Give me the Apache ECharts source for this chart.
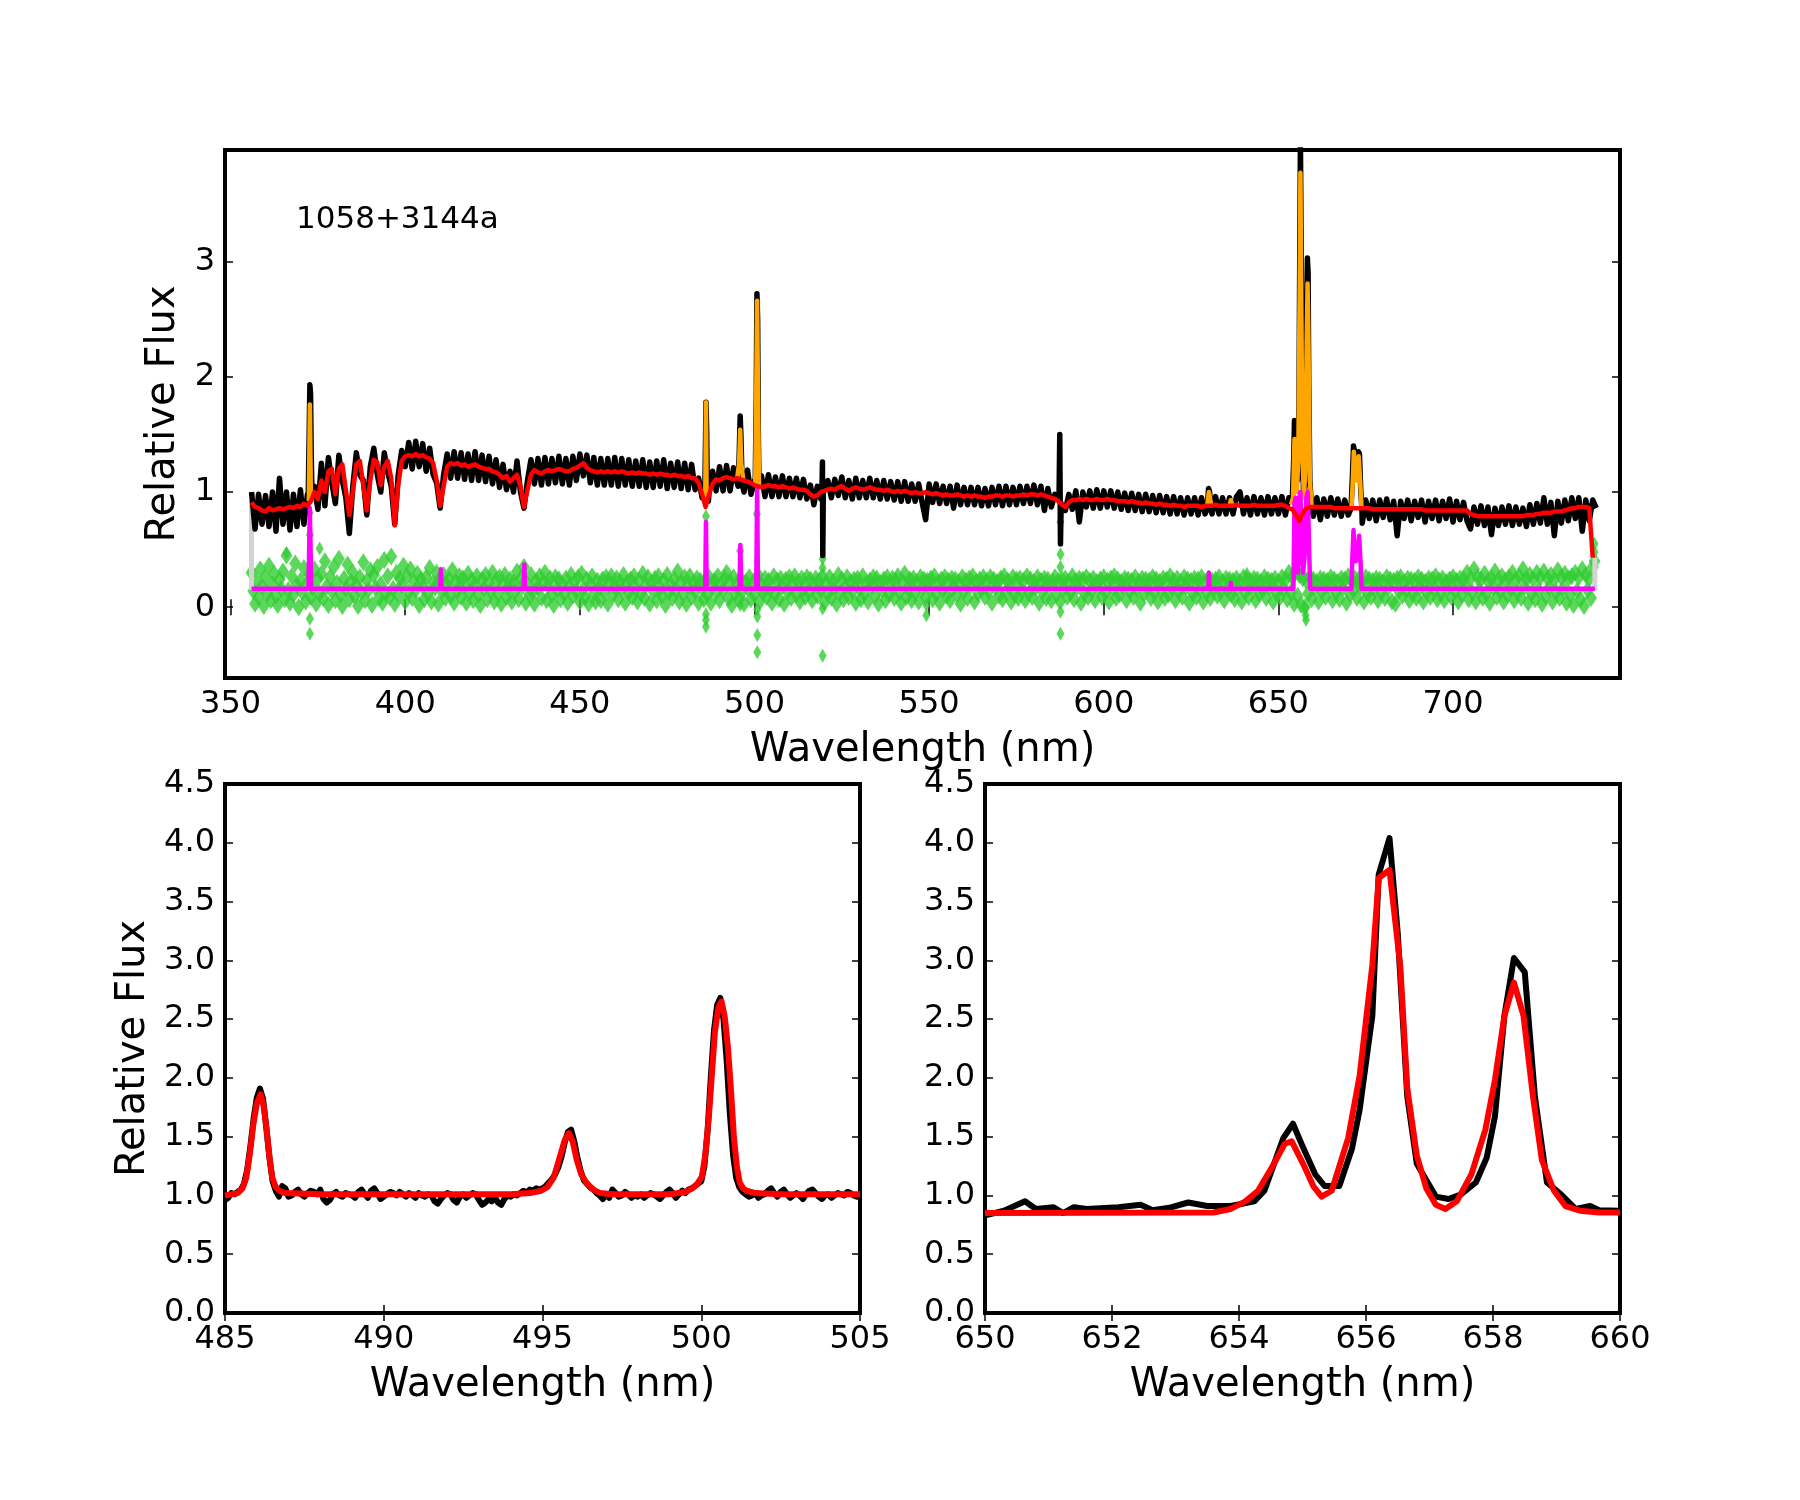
<!DOCTYPE html>
<html>
<head>
<meta charset="utf-8">
<script src="https://cdn.jsdelivr.net/npm/echarts@6/dist/echarts.min.js"></script>
<style>
  html, body { margin: 0; padding: 0; background: #fff; }
  #chart { width: 1800px; height: 1500px; }
</style>
</head>
<body>
<div id="chart"></div>
<script>
// ---- top panel: full spectrum, 1 nm grid from 356 nm ----
const specStart = 356;
const specStep = 1;

const blackFlux = [
  1.00,0.68,0.98,0.72,0.97,0.70,1.00,0.66,1.12,0.72,
  1.00,0.67,0.98,0.70,1.02,0.72,0.98,0.90,1.05,0.85,
  1.25,0.88,1.30,1.08,0.90,1.32,1.10,0.95,0.64,1.05,
  1.34,1.15,1.10,0.80,1.22,1.38,1.15,1.00,1.34,1.17,
  1.05,0.72,1.15,1.36,1.22,1.43,1.20,1.44,1.22,1.42,
  1.18,1.38,1.15,1.08,0.86,1.15,1.33,1.12,1.35,1.12,
  1.34,1.11,1.33,1.10,1.35,1.10,1.32,1.09,1.31,1.07,
  1.28,1.04,1.24,1.02,1.18,1.00,1.27,1.00,0.86,1.10,
  1.28,1.07,1.29,1.06,1.30,1.07,1.29,1.08,1.31,1.07,
  1.29,1.06,1.31,1.10,1.33,1.14,1.32,1.08,1.30,1.06,
  1.29,1.06,1.29,1.06,1.30,1.05,1.29,1.06,1.28,1.05,
  1.27,1.05,1.28,1.04,1.26,1.04,1.27,1.05,1.28,1.03,
  1.25,1.04,1.26,1.03,1.25,1.02,1.24,1.02,1.12,0.95,
  0.90,1.00,1.18,1.01,1.22,1.01,1.23,1.01,1.21,1.08,
  1.10,1.00,1.19,0.98,1.10,1.06,1.14,0.96,1.15,0.96,
  1.13,0.96,1.14,0.96,1.12,0.96,1.12,0.95,1.11,0.94,
  1.06,0.89,1.05,0.94,1.02,1.10,0.95,1.11,0.97,1.13,
  0.95,1.10,0.94,1.12,0.95,1.10,0.95,1.12,0.95,1.10,
  0.94,1.10,0.94,1.09,0.93,1.09,0.92,1.09,0.92,1.07,
  0.92,1.07,0.91,0.76,1.07,0.91,1.07,0.90,1.05,0.90,
  1.05,0.86,1.06,0.89,1.04,0.89,1.04,0.89,1.04,0.88,
  1.03,0.88,1.04,0.89,1.05,0.88,1.05,0.89,1.04,0.89,
  1.05,0.90,1.05,0.90,1.06,0.89,1.05,0.84,1.03,0.87,
  0.98,0.95,0.90,0.84,0.98,0.85,1.01,0.74,1.00,0.87,
  1.01,0.86,1.02,0.86,1.01,0.87,1.01,0.86,1.00,0.85,
  0.99,0.84,0.99,0.84,0.98,0.83,0.98,0.83,0.97,0.82,
  0.97,0.82,0.96,0.81,0.96,0.81,0.95,0.80,0.95,0.81,
  0.95,0.80,0.95,0.81,0.88,0.81,0.96,0.81,0.95,0.81,
  0.95,0.81,0.96,1.00,0.81,0.95,0.80,0.96,0.81,0.95,
  0.80,0.96,0.81,0.95,0.81,0.96,0.80,0.95,0.90,0.90,
  0.90,0.90,0.90,0.90,0.79,0.95,0.76,0.94,0.79,0.95,
  0.80,0.94,0.79,0.93,0.80,0.85,0.85,0.85,0.73,0.93,
  0.77,0.93,0.75,0.93,0.78,0.94,0.76,0.92,0.62,0.92,
  0.77,0.93,0.75,0.92,0.78,0.93,0.74,0.92,0.77,0.93,
  0.75,0.92,0.77,0.94,0.74,0.92,0.76,0.91,0.75,0.68,
  0.87,0.72,0.88,0.71,0.87,0.63,0.86,0.71,0.87,0.72,
  0.88,0.71,0.87,0.72,0.86,0.70,0.89,0.72,0.90,0.73,
  0.95,0.72,0.91,0.62,0.92,0.73,0.93,0.75,0.95,0.77,
  0.95,0.66,0.93,0.75,0.93,0.86
];

// emission lines and spikes, finer than the 1 nm grid
const blackPeaks = [
  [[372.2,0.90],[372.5,1.50],[372.7,1.93],[372.9,1.85],[373.1,1.30],[373.3,1.00]],
  [[485.4,0.95],[485.8,1.05],[486.0,1.50],[486.1,1.78],[486.3,1.55],[486.5,1.00],[486.8,0.92]],
  [[495.3,1.05],[495.6,1.30],[495.9,1.66],[496.1,1.50],[496.4,1.15],[496.6,1.05]],
  [[500.2,1.05],[500.5,1.80],[500.7,2.72],[500.9,2.50],[501.1,1.50],[501.3,1.05]],
  [[519.3,1.00],[519.45,1.26],[519.55,0.45],[519.7,1.00]],
  [[587.2,0.97],[587.4,1.50],[587.6,0.55],[587.8,0.90]],
  [[629.6,0.85],[630.0,1.03],[630.3,1.00],[630.6,0.88]],
  [[653.5,0.92],[654.0,0.95],[654.4,1.30],[654.6,1.62],[654.8,1.55],[655.1,1.20],[655.5,1.10],
   [655.9,1.80],[656.1,3.00],[656.3,4.05],[656.5,3.20],[656.8,1.40],[657.2,1.00],[657.5,1.05],
   [657.9,1.50],[658.1,2.60],[658.3,3.03],[658.5,2.90],[658.7,1.90],[659.0,1.10],[659.4,0.90]],
  [[670.8,0.86],[671.2,1.15],[671.5,1.40],[671.8,1.35],[672.4,1.22],[672.9,1.35],[673.2,1.33],
   [673.6,1.00],[673.9,0.86]]
];

const redFlux = [
  0.91,0.87,0.86,0.84,0.83,0.86,0.84,0.85,0.86,0.85,
  0.86,0.87,0.86,0.88,0.87,0.90,0.88,0.92,1.00,0.94,
  1.10,1.00,1.18,1.20,0.98,1.20,1.24,1.02,0.80,1.00,
  1.24,1.27,1.06,0.84,1.10,1.28,1.26,1.06,1.22,1.27,
  1.12,0.71,1.06,1.27,1.31,1.32,1.31,1.33,1.31,1.32,
  1.30,1.29,1.25,1.10,0.88,1.05,1.22,1.25,1.24,1.25,
  1.23,1.24,1.22,1.23,1.24,1.22,1.21,1.20,1.20,1.18,
  1.17,1.15,1.12,1.14,1.09,1.12,1.15,1.05,0.87,1.02,
  1.15,1.19,1.17,1.16,1.18,1.19,1.18,1.19,1.20,1.19,
  1.18,1.18,1.20,1.21,1.23,1.25,1.21,1.19,1.18,1.17,
  1.18,1.17,1.18,1.17,1.18,1.17,1.18,1.17,1.16,1.17,
  1.16,1.17,1.16,1.16,1.15,1.16,1.15,1.16,1.15,1.15,
  1.14,1.15,1.14,1.14,1.13,1.14,1.12,1.12,1.08,0.98,
  0.87,0.98,1.07,1.11,1.10,1.12,1.13,1.12,1.11,1.12,
  1.11,1.10,1.09,1.08,1.06,1.05,1.04,1.05,1.06,1.05,
  1.05,1.04,1.05,1.04,1.03,1.04,1.03,1.02,1.02,1.01,
  0.98,0.96,0.97,1.00,1.01,1.02,1.03,1.02,1.04,1.05,
  1.03,1.01,1.03,1.04,1.03,1.02,1.03,1.04,1.03,1.02,
  1.02,1.01,1.02,1.01,1.00,1.01,1.00,1.01,1.00,0.99,
  1.00,0.99,0.99,1.00,0.99,0.98,0.99,0.98,0.97,0.98,
  0.97,0.97,0.98,0.97,0.96,0.97,0.96,0.97,0.96,0.96,
  0.95,0.96,0.96,0.97,0.97,0.96,0.97,0.97,0.96,0.97,
  0.97,0.98,0.97,0.98,0.98,0.97,0.98,0.97,0.96,0.95,
  0.94,0.92,0.89,0.87,0.91,0.93,0.93,0.94,0.93,0.94,
  0.93,0.93,0.94,0.93,0.93,0.94,0.93,0.93,0.92,0.92,
  0.92,0.91,0.92,0.91,0.91,0.90,0.91,0.90,0.90,0.89,
  0.90,0.89,0.89,0.88,0.89,0.88,0.88,0.87,0.88,0.88,
  0.88,0.88,0.87,0.88,0.88,0.88,0.89,0.88,0.88,0.88,
  0.88,0.88,0.89,0.88,0.88,0.88,0.88,0.89,0.88,0.88,
  0.88,0.88,0.88,0.88,0.89,0.89,0.88,0.86,0.85,0.80,
  0.75,0.82,0.86,0.87,0.87,0.87,0.87,0.87,0.87,0.87,
  0.86,0.86,0.86,0.86,0.86,0.86,0.86,0.86,0.86,0.86,
  0.86,0.85,0.85,0.85,0.85,0.85,0.85,0.85,0.85,0.85,
  0.85,0.85,0.85,0.85,0.85,0.85,0.84,0.84,0.84,0.84,
  0.84,0.84,0.84,0.84,0.84,0.84,0.84,0.84,0.84,0.81,
  0.80,0.79,0.79,0.79,0.79,0.79,0.79,0.79,0.79,0.79,
  0.79,0.79,0.79,0.79,0.79,0.80,0.80,0.80,0.81,0.81,
  0.82,0.82,0.82,0.83,0.83,0.83,0.84,0.85,0.86,0.86,
  0.87,0.87,0.87,0.86,0.43
];

const orangeLines = [
  [[372.4,0.92],[372.7,1.76],[373.0,0.93]],
  [[485.9,0.92],[486.1,1.78],[486.3,0.92]],
  [[495.0,1.11],[495.6,1.25],[495.9,1.54],[496.2,1.25],[496.8,1.10]],
  [[500.2,1.06],[500.55,2.00],[500.75,2.66],[500.95,2.00],[501.3,1.05]],
  [[629.6,0.88],[630.1,1.00],[630.3,1.01],[630.8,0.88]],
  [[636.0,0.88],[636.4,0.93],[636.8,0.88]],
  [[653.6,0.89],[654.2,0.95],[654.6,1.46],[654.9,1.30],[655.3,1.00],[655.7,1.30],[656.1,2.80],
   [656.3,3.77],[656.5,2.80],[656.9,1.30],[657.3,0.95],[657.7,1.20],[658.1,2.30],[658.35,2.81],
   [658.6,2.30],[659.0,1.10],[659.5,0.88]],
  [[670.9,0.86],[671.3,1.10],[671.6,1.35],[671.9,1.20],[672.3,1.10],[672.7,1.20],[673.0,1.31],
   [673.4,1.10],[673.8,0.86]]
];

const magentaModel = [
  [356.0,0.16],[372.3,0.16],[372.5,0.50],[372.7,0.86],[372.9,0.50],[373.1,0.16],
  [410.0,0.16],[410.2,0.33],[410.4,0.16],[433.9,0.16],[434.1,0.37],[434.3,0.16],
  [485.9,0.16],[486.1,0.74],[486.3,0.16],[495.7,0.16],[495.95,0.54],[496.2,0.16],
  [500.5,0.16],[500.75,1.03],[501.0,0.16],[629.9,0.16],[630.1,0.30],[630.3,0.16],
  [636.2,0.16],[636.4,0.21],[636.6,0.16],
  [654.3,0.16],[654.6,0.90],[654.9,0.95],[655.3,0.45],[655.6,0.30],[656.0,0.95],[656.3,1.00],
  [656.7,0.50],[657.1,0.30],[657.5,0.45],[658.0,0.95],[658.4,1.00],[658.8,0.50],[659.1,0.16],
  [670.9,0.16],[671.2,0.45],[671.5,0.67],[671.8,0.50],[672.2,0.40],[672.8,0.50],[673.1,0.62],
  [673.5,0.40],[673.8,0.16],[740.6,0.16]
];

// residuals (offset), 0.5 nm grid from 356 nm
const residStart = 356;
const residStep = 0.5;
const residFlux = [
  0.30,0.14,0.03,0.22,0.09,0.33,0.18,0.01,0.26,0.12,0.36,0.06,0.20,0.29,0.10,0.02,0.24,0.16,0.31,0.07,
  0.45,0.15,0.04,0.27,0.11,0.38,0.19,0.00,0.23,0.13,0.34,0.05,0.21,0.28,0.09,0.17,0.33,0.03,0.25,0.12,
  0.29,0.08,0.40,0.18,0.02,0.26,0.14,0.35,0.06,0.21,0.42,0.11,0.01,0.25,0.16,0.37,0.07,0.22,0.30,0.10,
  0.19,0.01,0.26,0.13,0.39,0.06,0.23,0.15,0.32,0.02,0.28,0.17,0.35,0.08,0.20,0.04,0.41,0.12,0.27,0.09,
  0.44,0.16,0.03,0.30,0.11,0.25,0.19,0.36,0.05,0.27,0.13,0.33,0.08,0.22,0.15,0.29,0.02,0.24,0.18,0.07,
  0.26,0.12,0.34,0.05,0.21,0.17,0.30,0.03,0.25,0.14,0.28,0.08,0.19,0.24,0.10,0.32,0.04,0.22,0.15,0.27,
  0.09,0.25,0.18,0.04,0.29,0.13,0.23,0.06,0.20,0.27,0.11,0.02,0.24,0.16,0.28,0.07,0.21,0.14,0.30,0.05,
  0.23,0.12,0.26,0.03,0.19,0.28,0.09,0.17,0.24,0.05,0.22,0.14,0.31,0.07,0.25,0.18,0.35,0.04,0.20,0.11,
  0.28,0.13,0.03,0.23,0.17,0.27,0.08,0.21,0.30,0.06,0.19,0.25,0.11,0.02,0.26,0.15,0.24,0.07,0.20,0.12,
  0.25,0.04,0.18,0.28,0.10,0.22,0.14,0.26,0.05,0.29,0.16,0.09,0.24,0.03,0.20,0.27,0.12,0.05,0.23,0.17,
  0.06,0.24,0.14,0.26,0.03,0.20,0.27,0.11,0.18,0.25,0.07,0.22,0.15,0.28,0.04,0.21,0.13,0.24,0.09,0.27,
  0.16,0.05,0.23,0.12,0.29,0.08,0.19,0.26,0.03,0.21,0.14,0.25,0.06,0.27,0.17,0.10,0.23,0.02,0.28,0.13,
  0.20,0.08,0.24,0.15,0.31,0.05,0.22,0.12,0.26,0.03,0.18,0.27,0.09,0.21,0.14,0.25,0.04,0.23,0.16,0.07,
  0.24,0.11,0.26,0.04,0.19,0.23,0.13,0.27,0.06,0.20,0.15,0.25,0.30,0.08,0.22,0.02,0.26,0.12,0.18,0.07,
  0.25,0.14,0.03,0.22,0.17,0.26,0.07,0.21,0.11,0.24,0.28,0.05,0.19,0.13,0.25,0.09,0.23,0.16,0.04,0.27,
  0.12,0.23,0.07,0.25,0.18,0.03,0.24,0.14,0.26,0.08,0.20,0.27,0.11,0.22,0.05,0.25,0.16,0.09,0.26,0.13,
  0.24,0.06,0.19,0.25,0.10,0.23,0.15,0.27,0.04,0.21,0.12,0.26,0.08,0.22,0.17,0.03,0.28,0.13,0.24,0.07,
  0.18,0.26,0.09,0.22,0.14,0.24,0.04,0.25,0.16,0.07,0.27,0.12,0.21,0.05,0.23,0.18,0.26,0.10,0.25,0.03,
  0.21,0.15,0.24,0.06,0.26,0.11,0.20,0.25,0.08,0.23,0.27,0.13,0.04,0.22,0.29,0.09,0.17,0.24,0.06,0.25,
  0.13,0.22,0.05,0.26,0.16,0.24,0.09,0.23,0.18,0.25,0.07,0.27,0.12,0.21,0.04,0.24,0.15,0.26,0.10,0.23,
  0.06,0.25,0.17,0.24,0.11,0.22,0.03,0.26,0.14,0.23,0.08,0.25,0.19,0.27,0.05,0.22,0.12,0.24,0.16,0.26,
  0.09,0.23,0.14,0.26,0.04,0.24,0.17,0.22,0.10,0.25,0.07,0.27,0.13,0.23,0.18,0.05,0.26,0.11,0.24,0.08,
  0.25,0.15,0.23,0.06,0.27,0.12,0.24,0.09,0.22,0.17,0.26,0.04,0.23,0.14,0.25,0.08,0.24,0.19,0.06,0.22,
  0.26,0.11,0.23,0.05,0.24,0.16,0.25,0.09,0.22,0.13,0.27,0.07,0.23,0.18,0.25,0.04,0.24,0.12,0.26,0.09,
  0.23,0.15,0.25,0.06,0.22,0.17,0.24,0.09,0.26,0.13,0.23,0.05,0.25,0.16,0.27,0.08,0.24,0.11,0.22,0.18,
  0.25,0.06,0.24,0.14,0.23,0.09,0.26,0.16,0.22,0.04,0.25,0.12,0.24,0.17,0.23,0.08,0.26,0.13,0.24,0.05,
  0.22,0.15,0.25,0.08,0.24,0.11,0.27,0.17,0.23,0.06,0.25,0.14,0.22,0.09,0.26,0.18,0.24,0.04,0.23,0.12,
  0.25,0.09,0.24,0.16,0.26,0.05,0.22,0.13,0.25,0.08,0.23,0.17,0.24,0.10,0.26,0.14,0.22,0.06,0.25,0.15,
  0.24,0.11,0.23,0.07,0.25,0.16,0.22,0.05,0.26,0.13,0.24,0.09,0.23,0.18,0.25,0.06,0.24,0.12,0.22,0.15,
  0.26,0.08,0.24,0.17,0.23,0.05,0.25,0.12,0.22,0.09,0.26,0.16,0.24,0.07,0.30,0.13,0.26,0.03,0.32,0.10,
  0.28,0.02,0.25,0.00,0.23,0.12,0.26,0.07,0.24,0.16,0.22,0.05,0.25,0.14,0.24,0.09,0.23,0.18,0.26,0.06,
  0.24,0.13,0.22,0.07,0.25,0.17,0.24,0.04,0.27,0.11,0.23,0.15,0.25,0.08,0.24,0.18,0.22,0.05,0.26,0.12,
  0.24,0.09,0.23,0.16,0.25,0.06,0.24,0.13,0.22,0.08,0.26,0.17,0.24,0.05,0.23,0.03,0.25,0.14,0.26,0.10,
  0.22,0.15,0.25,0.06,0.24,0.12,0.23,0.08,0.26,0.17,0.24,0.05,0.22,0.13,0.25,0.09,0.24,0.16,0.27,0.07,
  0.23,0.12,0.25,0.06,0.22,0.17,0.24,0.09,0.26,0.14,0.23,0.05,0.25,0.11,0.24,0.18,0.30,0.07,0.25,0.13,
  0.33,0.05,0.26,0.15,0.24,0.08,0.29,0.12,0.23,0.04,0.25,0.17,0.31,0.09,0.24,0.14,0.27,0.05,0.23,0.11,
  0.26,0.16,0.30,0.06,0.24,0.13,0.27,0.08,0.33,0.18,0.25,0.04,0.28,0.12,0.24,0.07,0.30,0.15,0.26,0.03,
  0.31,0.10,0.25,0.17,0.28,0.05,0.24,0.13,0.32,0.08,0.26,0.16,0.29,0.04,0.25,0.11,0.27,0.02,0.30,0.14,
  0.26,0.07,0.33,0.01,0.28,0.15,0.25,0.08,0.35,0.40
];

const residOutliers = [
  [372.6,0.82],[372.7,0.63],[372.7,-0.10],[372.7,-0.23],[375.5,0.51],[366.0,0.47],
  [486.1,0.79],[486.1,-0.06],[486.1,-0.11],[486.1,-0.17],
  [495.9,0.49],[495.9,0.02],
  [500.7,0.81],[500.8,-0.02],[500.8,-0.08],[500.8,-0.24],[500.8,-0.39],
  [519.5,0.42],[519.5,0.34],[519.5,-0.01],[519.5,-0.42],
  [549.2,0.02],[549.2,-0.07],
  [587.6,0.74],[587.6,0.46],[587.6,0.35],[587.6,-0.04],[587.6,-0.23],
  [641.0,0.29],
  [656.0,0.28],[657.7,0.00],[657.8,-0.07],[657.9,-0.11],
  [740.5,0.55],[740.5,0.48]
];

const grayEdges = [
  [[356.0,0.15],[356.0,0.93]],
  [[740.6,0.15],[740.6,0.43]]
];

const topXTicks = [350, 400, 450, 500, 550, 600, 650, 700];
const topYTicks = [0, 1, 2, 3];

// ---- bottom left: H-beta / [OIII], 0.1 nm grid from 485 nm ----
const leftStart = 485;
const leftStep = 0.1;
const leftBlack = [
  0.96,0.98,1.02,1.01,1.03,1.05,1.10,1.22,1.42,1.65,
  1.83,1.91,1.82,1.58,1.32,1.12,1.04,0.99,1.08,1.06,
  0.99,1.00,1.03,1.05,1.01,0.99,1.02,1.04,1.03,1.01,
  1.05,0.97,0.94,0.96,1.01,1.03,1.00,0.99,1.02,1.01,
  1.00,0.98,1.03,1.05,1.01,0.98,1.04,1.06,1.02,0.97,
  0.99,1.01,1.03,1.02,1.00,1.03,1.01,0.99,1.02,1.00,
  0.98,1.02,1.00,0.99,1.01,1.00,0.95,0.93,0.97,1.00,
  1.02,1.01,0.96,0.94,0.99,1.01,0.98,1.00,1.02,1.01,
  0.96,0.92,0.94,0.97,0.95,0.98,0.94,0.92,0.97,1.00,
  0.99,1.01,1.00,1.02,1.04,1.02,1.05,1.04,1.06,1.05,
  1.06,1.08,1.11,1.14,1.18,1.24,1.33,1.45,1.54,1.56,
  1.46,1.32,1.21,1.13,1.10,1.07,1.05,1.02,1.00,0.97,
  1.01,0.98,1.05,1.02,0.99,1.00,1.03,1.01,0.98,1.00,
  0.99,1.01,0.98,1.00,1.02,1.01,0.99,0.97,1.00,1.03,
  1.05,1.02,0.98,1.01,1.04,1.02,1.05,1.06,1.08,1.10,
  1.12,1.25,1.55,2.00,2.40,2.62,2.68,2.50,2.15,1.70,
  1.35,1.15,1.07,1.03,1.01,0.99,1.00,1.02,0.98,1.00,
  1.01,1.04,1.06,1.02,0.99,1.03,1.05,1.01,0.98,1.00,
  1.02,1.00,0.97,1.01,1.04,1.05,1.02,0.99,0.97,1.00,
  1.01,0.98,1.00,1.02,1.01,1.00,1.03,1.02,1.00,0.99,
  1.00
];
const leftRed = [
  [485.0,1.00],[485.4,1.02],[485.55,1.06],[485.67,1.15],[485.78,1.35],[485.89,1.60],[486.0,1.78],
  [486.12,1.86],[486.22,1.76],[486.31,1.56],[486.4,1.33],[486.49,1.15],[486.6,1.07],[486.71,1.04],
  [486.9,1.02],[488.0,1.01],[490.0,1.01],[492.0,1.01],[494.0,1.01],[494.6,1.02],[494.96,1.04],
  [495.15,1.07],[495.35,1.15],[495.56,1.34],[495.7,1.47],[495.83,1.53],[495.95,1.46],[496.08,1.30],
  [496.22,1.18],[496.38,1.11],[496.6,1.05],[496.82,1.02],[497.2,1.01],[499.0,1.01],[499.5,1.03],
  [499.72,1.06],[499.88,1.10],[500.02,1.16],[500.13,1.35],[500.24,1.67],[500.34,2.05],[500.43,2.39],
  [500.54,2.60],[500.64,2.65],[500.74,2.52],[500.84,2.26],[500.94,1.88],[501.03,1.49],[501.12,1.25],
  [501.21,1.11],[501.32,1.06],[501.43,1.04],[501.7,1.02],[502.5,1.01],[505.0,1.01]
];

// ---- bottom right: H-alpha / [NII] ----
const rightBlack = [
  [650.0,0.83],[650.3,0.87],[650.63,0.95],[650.8,0.885],[651.08,0.90],[651.23,0.85],[651.4,0.90],
  [651.6,0.885],[652.1,0.90],[652.45,0.92],[652.64,0.875],[652.9,0.895],[653.2,0.94],[653.5,0.91],
  [653.87,0.91],[654.24,0.95],[654.4,1.04],[654.7,1.49],[654.85,1.61],[655.0,1.42],[655.2,1.18],
  [655.35,1.08],[655.58,1.08],[655.78,1.40],[655.9,1.73],[656.1,2.53],[656.2,3.73],[656.37,4.04],
  [656.5,3.23],[656.65,1.84],[656.8,1.27],[657.1,0.99],[657.3,0.97],[657.5,1.01],[657.73,1.11],
  [657.9,1.32],[658.03,1.67],[658.18,2.53],[658.33,3.02],[658.5,2.90],[658.66,1.84],[658.85,1.11],
  [659.07,1.01],[659.3,0.885],[659.53,0.91],[659.67,0.875],[660.0,0.87]
];
const rightRed = [
  [650.0,0.85],[653.6,0.855],[653.87,0.885],[654.1,0.95],[654.3,1.04],[654.53,1.25],[654.72,1.44],
  [654.83,1.46],[655.0,1.28],[655.17,1.08],[655.3,0.99],[655.46,1.04],[655.72,1.49],[655.9,2.02],
  [656.1,2.96],[656.2,3.70],[656.37,3.77],[656.54,2.95],[656.65,1.91],[656.8,1.34],[656.95,1.06],
  [657.1,0.92],[657.25,0.885],[657.43,0.95],[657.66,1.18],[657.88,1.56],[658.03,1.98],[658.18,2.53],
  [658.33,2.81],[658.48,2.53],[658.63,1.84],[658.77,1.30],[658.96,1.04],[659.14,0.91],[659.37,0.87],
  [659.67,0.855],[660.0,0.855]
];

// ---- build point lists ----
const blackPts = blackFlux
  .map((v, i) => [specStart + i * specStep, v])
  .filter(p => !blackPeaks.some(s => p[0] >= s[0][0] && p[0] <= s[s.length - 1][0]))
  .concat(...blackPeaks)
  .sort((a, b) => a[0] - b[0]);
const redPts = redFlux.map((v, i) => [specStart + i * specStep, v]);
const residPts = residFlux.map((v, i) => [residStart + i * residStep, v]);
const leftBlackPts = leftBlack.map((v, i) => [leftStart + i * leftStep, v]);

const FONT = 'DejaVu Sans';
const tickLine = { color: '#000', width: 1.5 };
const labelStyle = { fontSize: 32, color: '#000', fontFamily: FONT };
const nameStyle = { fontSize: 40, color: '#000', fontFamily: FONT };

function xAxisPair(gridIndex, min, max, ticks, interval) {
  const base = {
    type: 'value', gridIndex, min, max, interval,
    splitLine: { show: false }, axisLine: { show: false },
  };
  return [
    Object.assign({}, base, {
      position: 'bottom',
      axisTick: { inside: true, length: 8, lineStyle: tickLine, customValues: ticks },
      axisLabel: Object.assign({ margin: 11, customValues: ticks, showMinLabel: true, showMaxLabel: true }, labelStyle),
      name: 'Wavelength (nm)', nameLocation: 'middle', nameGap: 53, nameTextStyle: nameStyle,
    }),
    Object.assign({}, base, {
      position: 'top',
      axisTick: { inside: true, length: 8, lineStyle: tickLine, customValues: ticks },
      axisLabel: { show: false },
    }),
  ];
}

function yAxisPair(gridIndex, min, max, ticks, interval, fmt, nameGap) {
  const base = {
    type: 'value', gridIndex, min, max, interval,
    splitLine: { show: false }, axisLine: { show: false },
  };
  const left = Object.assign({}, base, {
    position: 'left',
    axisTick: { inside: true, length: 8, lineStyle: tickLine, customValues: ticks },
    axisLabel: Object.assign({ margin: 10, customValues: ticks, formatter: fmt, showMinLabel: true, showMaxLabel: true }, labelStyle),
  });
  if (nameGap) {
    Object.assign(left, { name: 'Relative Flux', nameLocation: 'middle', nameRotate: 90, nameGap, nameTextStyle: nameStyle });
  }
  return [left, Object.assign({}, base, {
    position: 'right',
    axisTick: { inside: true, length: 8, lineStyle: tickLine, customValues: ticks },
    axisLabel: { show: false },
  })];
}

const oneDec = v => v.toFixed(1);
const gridBox = { show: true, borderColor: '#000', borderWidth: 4, backgroundColor: 'transparent' };

const topAxes = { xAxisIndex: 0, yAxisIndex: 0 };
const lineSeries = (extra, color, width) => Object.assign({
  type: 'line', symbol: 'none', silent: true,
  lineStyle: { color, width, join: 'round' },
}, extra);
const residSeries = (data, size) => Object.assign({
  type: 'scatter', data, symbol: 'diamond', symbolSize: size, silent: true,
  itemStyle: { color: '#32cd32' },
}, topAxes);

const chart = echarts.init(document.getElementById('chart'));
chart.setOption({
  animation: false,
  backgroundColor: '#fff',
  grid: [
    Object.assign({ left: 225, top: 150, width: 1395, height: 528 }, gridBox),
    Object.assign({ left: 225, top: 784, width: 635, height: 529 }, gridBox),
    Object.assign({ left: 985, top: 784, width: 635, height: 529 }, gridBox),
  ],
  xAxis: [
    ...xAxisPair(0, 348.4, 747.8, topXTicks),
    ...xAxisPair(1, 485, 505, undefined, 5),
    ...xAxisPair(2, 650, 660, undefined, 2),
  ],
  yAxis: [
    ...yAxisPair(0, -0.614, 3.968, topYTicks, undefined, v => String(v), 38),
    ...yAxisPair(1, 0, 4.5, undefined, 0.5, oneDec, 71),
    ...yAxisPair(2, 0, 4.5, undefined, 0.5, oneDec, 0),
  ],
  graphic: [{
    type: 'text', left: 296, top: 204,
    style: { text: '1058+3144a', fontSize: 31, fontFamily: FONT, fill: '#000' },
  }],
  series: [
    ...grayEdges.map(seg => lineSeries(Object.assign({ data: seg }, topAxes), '#d3d3d3', 5)),
    lineSeries(Object.assign({ data: blackPts }, topAxes), '#000', 5.5),
    ...orangeLines.map(seg => lineSeries(Object.assign({ data: seg }, topAxes), '#ffa500', 4.5)),
    residSeries(residPts, [12, 18]),
    residSeries(residOutliers, [8, 14]),
    lineSeries(Object.assign({ data: magentaModel }, topAxes), '#ff00ff', 4.5),
    lineSeries(Object.assign({ data: redPts }, topAxes), '#ff0000', 4.5),

    lineSeries({ data: leftBlackPts, xAxisIndex: 2, yAxisIndex: 2 }, '#000', 6),
    lineSeries({ data: leftRed, xAxisIndex: 2, yAxisIndex: 2 }, '#ff0000', 6),
    lineSeries({ data: rightBlack, xAxisIndex: 4, yAxisIndex: 4 }, '#000', 6),
    lineSeries({ data: rightRed, xAxisIndex: 4, yAxisIndex: 4 }, '#ff0000', 6),
  ],
});
</script>
</body>
</html>
